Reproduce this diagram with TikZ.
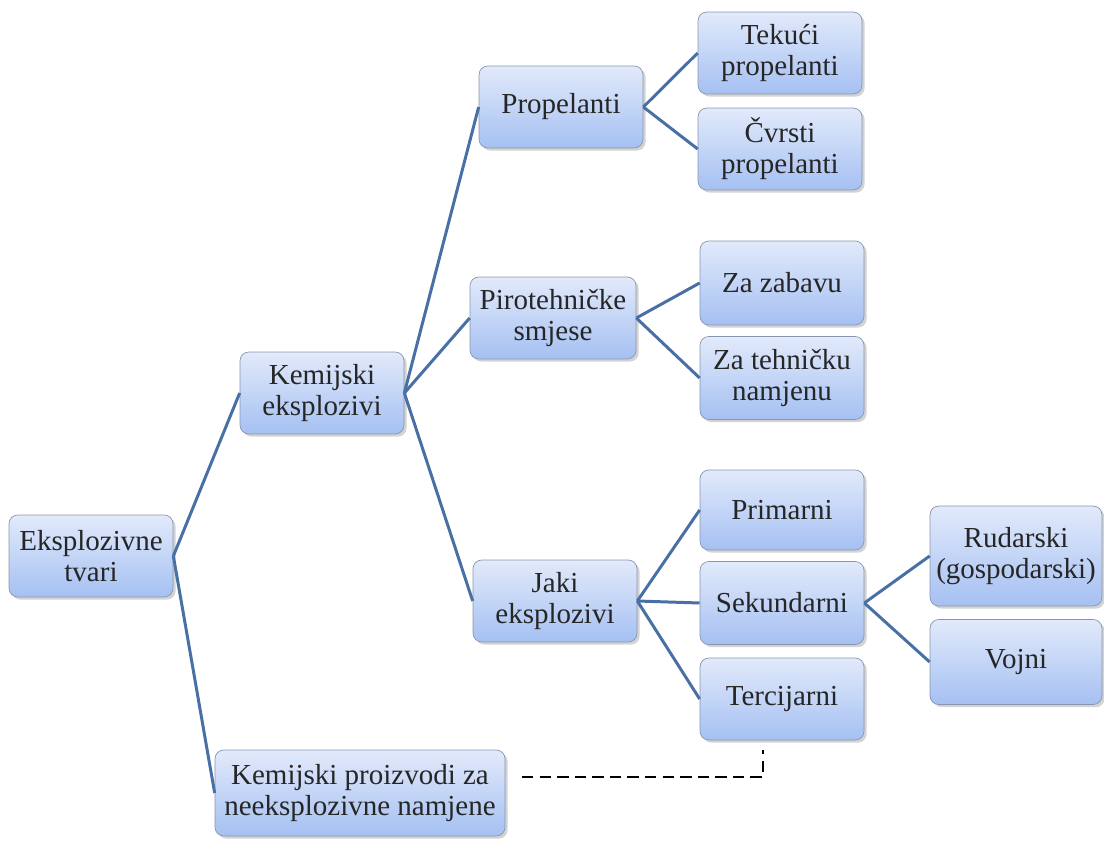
\documentclass[tikz,border=0pt]{standalone}
\usepackage{fontspec}
\setmainfont{Liberation Serif}
\newfontfamily\boxfont{Liberation Serif}
\usetikzlibrary{shadows}
\definecolor{boxtop}{RGB}{226,234,251}
\definecolor{boxbot}{RGB}{165,192,242}
\definecolor{boxline}{RGB}{135,150,175}
\definecolor{linkblue}{RGB}{72,112,165}
\begin{document}
\begin{tikzpicture}[x=0.02cm,y=-0.02cm,
  box/.style={draw=boxline, rounded corners=5pt, top color=boxtop, bottom color=boxbot,
    drop shadow={shadow xshift=1.5pt, shadow yshift=-1.5pt, opacity=0.35},
    align=center, text=black!85, inner sep=1pt,
    font=\boxfont\fontsize{16.5}{17.5}\selectfont,
    minimum width=3.28cm, minimum height=1.64cm},
  link/.style={draw=linkblue, line width=1.7pt}]
\useasboundingbox (0,0) rectangle (1104,844);
\node[box] (et) at (91,556) {Eksplozivne\\tvari};
\node[box] (ke) at (322,393) {Kemijski\\eksplozivi};
\node[box, minimum width=5.8cm, minimum height=1.72cm] (kp) at (360,793) {Kemijski proizvodi za\\neeksplozivne namjene};
\node[box] (prop) at (561,107) {Propelanti};
\node[box, minimum width=3.32cm] (piro) at (553,318) {Pirotehničke\\smjese};
\node[box] (jaki) at (555,601) {Jaki\\eksplozivi};
\node[box] (tek) at (780,53) {Tekući\\propelanti};
\node[box] (cvr) at (780,149) {Čvrsti\\propelanti};
\node[box, minimum height=1.68cm] (zab) at (782,283) {Za zabavu};
\node[box, minimum height=1.66cm] (teh) at (782,378) {Za tehničku\\namjenu};
\node[box, minimum height=1.6cm] (prim) at (782,510) {Primarni};
\node[box, minimum height=1.66cm] (sek) at (782,603) {Sekundarni};
\node[box, minimum height=1.64cm] (ter) at (782,699) {Tercijarni};
\node[box, minimum width=3.44cm, minimum height=2cm] (rud) at (1016,556) {Rudarski\\(gospodarski)};
\node[box, minimum width=3.44cm, minimum height=1.7cm] (voj) at (1016,662) {Vojni};
% veze
\draw[link] (et.east) -- (ke.west);
\draw[link] (et.east) -- (kp.west);
\draw[link] (ke.east) -- (prop.west);
\draw[link] (ke.east) -- (piro.west);
\draw[link] (ke.east) -- (jaki.west);
\draw[link] (prop.east) -- (tek.west);
\draw[link] (prop.east) -- (cvr.west);
\draw[link] (piro.east) -- (zab.west);
\draw[link] (piro.east) -- (teh.west);
\draw[link] (jaki.east) -- (prim.west);
\draw[link] (jaki.east) -- (sek.west);
\draw[link] (jaki.east) -- (ter.west);
\draw[link] (sek.east) -- (rud.west);
\draw[link] (sek.east) -- (voj.west);
% isprekidana veza
\coordinate (d1) at (522,777);
\coordinate (d2) at (763,777);
\coordinate (d3) at (763,750);
\draw[line width=1.2pt, dash pattern=on 6.5pt off 3.5pt] (d1) -- (d2) -- (d3);
\end{tikzpicture}
\end{document}
